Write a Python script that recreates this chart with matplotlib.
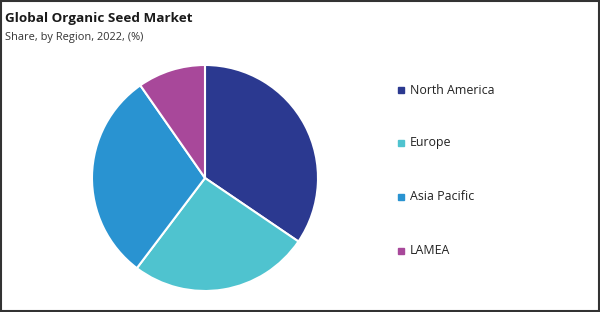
import matplotlib
matplotlib.use("Agg")
import matplotlib.pyplot as plt
from matplotlib.patches import Rectangle

# data
regions = ["North America", "Europe", "Asia Pacific", "LAMEA"]
shares = [34.5, 25.8, 30.0, 9.7]
colors = ["#2B3990", "#4FC3CF", "#2993D1", "#A8489A"]

plt.rcParams['font.family'] = ['Open Sans', 'DejaVu Sans']

fig = plt.figure(figsize=(6, 3.12), dpi=100)

# pie
ax = fig.add_axes([0.1533, 0.0673, 0.3767, 0.7244])
ax.pie(shares, colors=colors, startangle=90, counterclock=False,
       wedgeprops=dict(edgecolor="white", linewidth=1.5))
ax.set_xlim(-1, 1)
ax.set_ylim(-1, 1)
ax.set_aspect("equal")

# titles
fig.text(0.008, 0.942, "Global Organic Seed Market", fontsize=9.7, fontweight="bold",
         color="#1a1a1a", va="center")
fig.text(0.008, 0.88, "Share, by Region, 2022, (%)", fontsize=7.9, color="#333333", va="center")

# legend
leg_y = [90, 143, 197, 251]
for name, c, y in zip(regions, colors, leg_y):
    yf = 1 - y / 312
    fig.patches.append(Rectangle((398 / 600, yf - 3 / 312), 6 / 600, 6 / 312,
                                 transform=fig.transFigure, color=c))
    fig.text(410 / 600, yf, name, fontsize=8.9, color="#222222", va="center")

# frame
fig.patches.append(Rectangle((0.001, 0.002), 0.997, 0.995, transform=fig.transFigure,
                             fill=False, edgecolor="#333333", linewidth=1.5))

fig.savefig("out.png", dpi=100)
